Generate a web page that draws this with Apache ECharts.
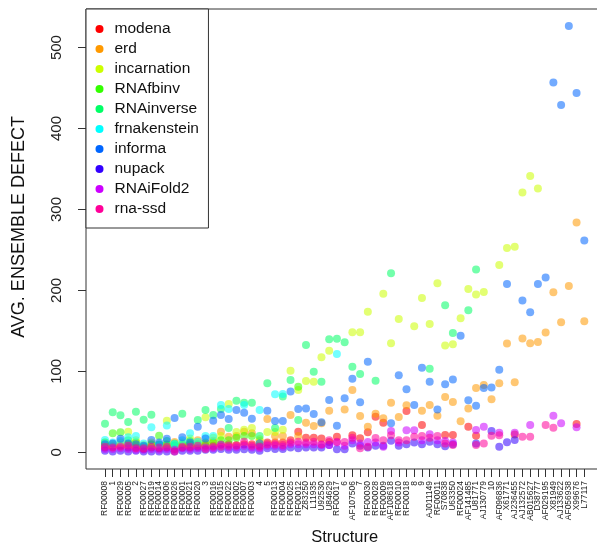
<!DOCTYPE html>
<html>
<head>
<meta charset="utf-8">
<script src="https://cdn.jsdelivr.net/npm/echarts@6/dist/echarts.min.js"></script>
<style>
html,body{margin:0;padding:0;background:#fff;overflow:hidden;}
#chart{width:597px;height:545px;}
</style>
</head>
<body>
<div id="chart"></div>
<script>
const structures = ['RF00008','1','RF00029','RF00005','2','RF00027','RF00019','RF00014','RF00006','RF00026','RF00001','RF00021','RF00020','3','RF00016','RF00015','RF00022','RF00002','RF00007','RF00003','4','5','RF00013','RF00004','RF00025','RF00012','Z83250','L11935','U92530','U84629','RF00017','6','AF107506','7','RF00030','RF00028','RF00009','AF108618','RF00010','RF00018','8','9','AJ011149','RF00011','S70838','U63350','RF00024','AF141485','U81771','AJ130779','10','AF096836','X61771','AJ236455','AJ132572','AB015627','D38777','AF029195','X81949','AJ133622','AF056938','X99676','L77117'];

const seriesNames = ['modena','erd','incarnation','RNAfbinv','RNAinverse','frnakenstein','informa','nupack','RNAiFold2','rna-ssd'];
const seriesColors = ['#FF0000','#FF9900','#CCFF00','#33FF00','#00FF66','#00FFFF','#0066FF','#3300FF','#CC00FF','#FF0099'];
const yTickMin = 0, yTickMax = 500, yTickStep = 100;

const modena =      [6,   7,   8,   6,   6,   4,   6,   5,   6,   4,   6,   6,   7,   8,   8,  10,  10,   9,  10,  10,   8,  12,  12,  12,  15, 25.5,  18,  18,  17, 12.7, 19.3,null, 21, 17.3, 24.7, 44, 36.6,null,null, 51,null,33.7,null,null,21.4, 21.4,null,31.6, 20.5,null,null,null,null, 22,null,null,null,null,null,null,null, 35,null];
const erd =         [9,   8,   9,  10,   8,   6,   9,   9,  10,12.7,   9,   9,  15,  10,14.3,25.5,19.3,  20,25.5,23.5,  14,41.2,  20,  20,46.1,  20, 36.6,32.5,35.8,51.4,null,  53,  77, 44.9,31.6,47.7, 42,61.3,43.6, 58,null,51.4,58.5,45.3,68.4, 62.2,38.3, 54, 79.5, 83.2,65.5,85.3,134.3,86.5,140.5,134.7,136.3,147.9,197.8,160.7,205.6,283.8,162];
const incarnation = [12,  10,  12,25.5,  15,   9,  12,   8,  39,   9,  12,  17,  12,43.3,  18,  20,59.7,  25,  28,  30,  16,  25,  25,  28,100.9, 77, 88.1,87.3,117.4,125.6,null,null,148.3,148.3,173.8,null,196,134.7,164.8,null,155.7,190.7,158.6,209,131.8,133.5,165.6,201.8,195,198,null,231.5,252.5,253.8,321,341.5,326,null,null,null,null,null,null];
const RNAfbinv =    [12,23.5,24.7,  15,  12,   7,  10,20.5,   9,   8,  10,  10,  10,  12,  12,  15,  15,  18,  20,  20,null,null,null,null,null,  81, null,null,null,null,null,null,null,null,null,null,null,null,null,null,null,null,null,null,null,null,null,null,null,null,null,null,null,null,null,null,null,null,null,null,null,null,null];
const RNAinverse =  [35.4,49.4,45.7,37.5,50.2,40.3,46.5, 10,  14,  11,47.7,  14,  40,52.3,  46,53.5,  30,63.8,61.3,61.3,  20,85.3,  30,  69,89.4,  40,132.6,99.6,87.3,139.7,140.4,136,105.8,96.8,null,88.5,null,221.3,null,null,null,null,103.3,null,181.7,147.5,null,175.5,226,null,null,null,null,null,null,null,null,null,null,null,null,null,null];
const frnakenstein =[15.2, 12,  14,18.5,  20,  11,30.9,   9,  33,  10,  15,23.5,  13,  20,  20,58.5,53.5,null,58.5,null,52.3,null,71.7,  72,null,null, null,null,null,null,121.5,null,null,null,null,null,null,null,null,null,null,null,null,null,null,null,null,null,null,null,null,null,null,null,null,null,null,null,null,null,null,null,null];
const informa =     [10,  11,16.8,  11,  10,   8,15.2,  12,16.8,42.4,18.5,  12,31.6,  17,39.1,46.1,41.2,52.3,  49,41.5,  11,51.4,38.7,38.7,  75,53.5,  54,47.3,  37,64.5,32.9,66.7, 91, 61.8, 112,null,null,35.8,95.2,77.9,58.5,104.6,87.3, 53,  84,   90, 144,64.3, 57.6, 79.5, 80, 102, 208,null,187.4,173,208,216,456.9,429,526.6,444,261.6];
const nupack =      [2,   1,   2,   1,   2,   1,   1,   1,   1,   1,   2,   2,   2,   3,   3,   4,   3,   3, 3.7,   3,   2,   5,   4,   4,   6,   5,    6,   6,   6,   9,  3.7, 3.7,  11,   8,    6,   8,   8,14.3,   8,  10,  12,  10,  13,  10, 7.5,  10,null,null,  11,null,26.3,   7,12.4,15.2,null,null,null,null,null,null,null,null,null];
const RNAiFold2 =   [4,   4,   5,   4,   3,   3,   4,   3,   4,   3,   5,   4,   5,   6,   5,   9,   6,   6,   8,   6,   5,   8,   8,   7,  10,  10,   10,  10,   9,   9,   12,   8,  15,  11, 12.7,  12,   7,26.3,  12,27.2,27.2,15,22.2, 15,  14,   12,null,null, 27.6, 31.6,null, 24,null,  24,null,33.7,null,null,45.3,35.8,null,30.9,null];
const rnaSsd =      [7,   6,   7,   8,   5,   5,   7,   6,   7,   1,   7,   7,   8,   4,   7,   7,   8,   8,13.1,   8,   7,  10,  10,   9,  12,  13,   12,  13,  10,  15,   13,12.7,  18,   5,    7,17.7,  15,  21,  15,  15,19.3, 20,  18,  20,  11,    9,null,null,    9,   11,20.5, 21,null,null,19.3,19.3,null,33.7,30.4,null,null,null,null];

const seriesValues = [modena, erd, incarnation, RNAfbinv, RNAinverse, frnakenstein, informa, nupack, RNAiFold2, rnaSsd];

const FONT = 'Liberation Sans, Arial, sans-serif';
// layout (pixels)
const colStep = 7.7306;
const dataLeft = 105 - colStep / 2;
const dataWidth = colStep * structures.length;
const zeroY = 452.3, pxPerUnit = 0.8094;
const dataTop = zeroY - yTickMax * pxPerUnit;
const boxLeft = 86, boxBottom = 469;
const noBounds = {containLabel: false, outerBoundsMode: 'none', show: false};

const chart = echarts.init(document.getElementById('chart'), null, {renderer: 'canvas'});
chart.setOption({
  animation: false,
  backgroundColor: '#ffffff',
  grid: [
    // 0: data grid
    Object.assign({left: dataLeft, top: dataTop, width: dataWidth, height: zeroY - dataTop}, noBounds),
    // 1: plot box frame
    {left: boxLeft, top: 9, width: 518, height: 460, show: true, borderColor: '#333', borderWidth: 1,
     backgroundColor: 'transparent', containLabel: false, outerBoundsMode: 'none'},
    // 2: helper for y ticks (axis crosses zero of helper x at the box edge)
    Object.assign({left: boxLeft - 16, top: dataTop, width: 20, height: zeroY - dataTop}, noBounds),
    // 3: helper for x ticks (axis crosses zero of helper y at the box bottom)
    Object.assign({left: dataLeft, top: boxBottom - 2, width: dataWidth, height: 4}, noBounds)
  ],
  legend: {
    orient: 'vertical', left: 86, top: 9,
    padding: [12, 9.5, 11, 9.5],
    itemWidth: 8, itemHeight: 8, itemGap: 4,
    icon: 'circle',
    borderColor: '#333', borderWidth: 1, backgroundColor: '#fff',
    textStyle: {fontSize: 15.5, fontFamily: FONT, color: '#111', lineHeight: 15, padding: [0, 0, 0, 6]},
    data: seriesNames.map((n, i) => ({name: n, itemStyle: {color: seriesColors[i], opacity: 1}}))
  },
  xAxis: [{
    gridIndex: 0, type: 'category', data: structures, boundaryGap: true, position: 'bottom',
    offset: 477 - zeroY,
    axisLine: {show: false, onZero: false}, splitLine: {show: false}, axisTick: {show: false},
    axisLabel: {interval: 0, rotate: 90, hideOverlap: false,
                fontSize: 8.5, lineHeight: 7, fontFamily: FONT, color: '#222', margin: 4},
    name: 'Structure', nameLocation: 'middle', nameGap: 52,
    nameTextStyle: {fontSize: 16.5, fontFamily: FONT, color: '#111'}
  }, {
    gridIndex: 1, type: 'value', min: 0, max: 1, show: false
  }, {
    gridIndex: 2, type: 'value', min: -16, max: 4, show: false
  }, {
    gridIndex: 3, type: 'category', data: structures, boundaryGap: true,
    axisLine: {show: false, onZero: true}, splitLine: {show: false}, axisLabel: {show: false},
    axisTick: {show: true, inside: false, length: 8, alignWithLabel: true, interval: 0, lineStyle: {color: '#333', width: 1}}
  }],
  yAxis: [{
    gridIndex: 0, type: 'value', min: yTickMin, max: yTickMax, interval: yTickStep, position: 'left',
    offset: dataLeft - 78,
    axisLine: {show: false, onZero: false}, splitLine: {show: false}, axisTick: {show: false},
    axisLabel: {rotate: 90, fontSize: 15, fontFamily: FONT, color: '#222', margin: 14},
    name: 'AVG. ENSEMBLE DEFECT', nameLocation: 'middle', nameGap: 50,
    nameTextStyle: {fontSize: 18, fontFamily: FONT, color: '#111', padding: [0, 0, 0, 46]}
  }, {
    gridIndex: 1, type: 'value', min: 0, max: 1, show: false
  }, {
    gridIndex: 2, type: 'value', min: yTickMin, max: yTickMax, interval: yTickStep,
    axisLine: {show: false, onZero: true}, splitLine: {show: false}, axisLabel: {show: false},
    axisTick: {show: true, inside: false, length: 8, lineStyle: {color: '#333', width: 1}}
  }, {
    gridIndex: 3, type: 'value', min: -1, max: 1, show: false
  }],
  series: seriesNames.map((n, s) => ({
    name: n, type: 'scatter', symbol: 'circle', symbolSize: 8, clip: false,
    xAxisIndex: 0, yAxisIndex: 0,
    itemStyle: {color: seriesColors[s], opacity: 0.55},
    emphasis: {disabled: true},
    data: seriesValues[s].map((v, i) => v == null ? null : [i, v]).filter(d => d !== null)
  }))
});
</script>
</body>
</html>
